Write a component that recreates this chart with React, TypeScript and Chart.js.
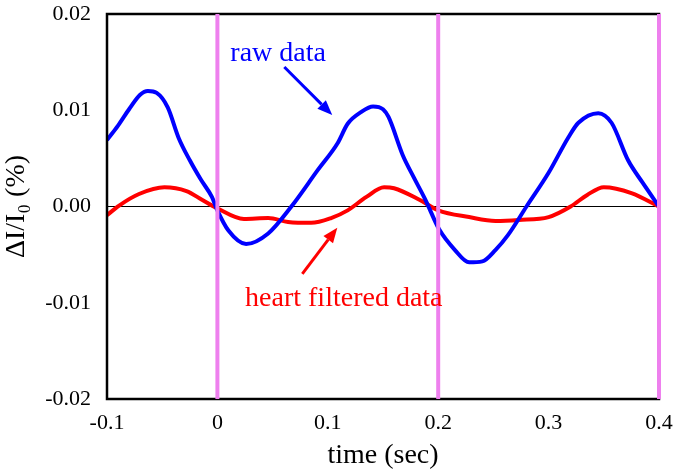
import React, { useEffect, useRef } from "react";
import { Chart, registerables } from "chart.js";

Chart.register(...registerables);

// ---- data ----
const rawTime = [-0.1, -0.09, -0.08, -0.07, -0.063, -0.055, -0.045, -0.035, -0.025, -0.015, -0.005, 0.0, 0.01, 0.026, 0.046, 0.067, 0.091, 0.109, 0.118, 0.13, 0.141, 0.15, 0.155, 0.168, 0.178, 0.188, 0.201, 0.215, 0.228, 0.24, 0.252, 0.263, 0.28, 0.3, 0.318, 0.327, 0.345, 0.357, 0.372, 0.385, 0.4];
const rawValues = [0.0069, 0.0084, 0.0101, 0.0116, 0.012, 0.0118, 0.0103, 0.0071, 0.0048, 0.0028, 0.001, -0.0004, -0.0025, -0.0039, -0.0028, 0.0, 0.0038, 0.0066, 0.0086, 0.0098, 0.0104, 0.0101, 0.0093, 0.0053, 0.003, 0.0008, -0.0024, -0.0045, -0.0058, -0.0057, -0.0045, -0.003, 0.0, 0.0035, 0.0072, 0.0087, 0.0097, 0.0087, 0.0048, 0.0025, 0.0];

const filtTime = [-0.1, -0.089, -0.071, -0.048, -0.028, -0.014, 0.0, 0.024, 0.046, 0.064, 0.085, 0.103, 0.118, 0.135, 0.151, 0.16, 0.183, 0.2, 0.228, 0.252, 0.273, 0.3, 0.32, 0.335, 0.35, 0.375, 0.4];
const filtValues = [-0.0009, 0.0001, 0.0013, 0.002, 0.0016, 0.0007, -0.0002, -0.0013, -0.0012, -0.0016, -0.0017, -0.0012, -0.0004, 0.001, 0.002, 0.0019, 0.0007, -0.0004, -0.0011, -0.0015, -0.0014, -0.0011, 0.0, 0.0012, 0.002, 0.0014, 0.0];

const markerTimes = [0, 0.2, 0.4];

const xTickValues = [-0.1, 0, 0.1, 0.2, 0.3, 0.4];
const xTickLabels = ["-0.1", "0", "0.1", "0.2", "0.3", "0.4"];
const yTickValues = [-0.02, -0.01, 0, 0.01, 0.02];
const yTickLabels = ["-0.02", "-0.01", "0.00", "0.01", "0.02"];

const xTitle = "time (sec)";
const yTitle = "ΔI/I₀ (%)";

const rawLabel = { text: "raw data", x: 0.055, y: 0.0151 };
const rawArrow = { x1: 0.0606, y1: 0.0145, x2: 0.104, y2: 0.0095 };
const filtLabel = { text: "heart filtered data", x: 0.1145, y: -0.0103 };
const filtArrow = { x1: 0.0769, y1: -0.007, x2: 0.1086, y2: -0.0022 };

const BLUE = "#0000FF";
const RED = "#FF0000";
const PINK = "#EE80EE";
const FONT = "'Liberation Serif', 'Times New Roman', serif";

function lookup(vals: number[], labels: string[], v: number) {
  for (let i = 0; i < vals.length; i++) if (Math.abs(vals[i] - v) < 1e-9) return labels[i];
  return "";
}

function drawArrow(ctx: CanvasRenderingContext2D, x1: number, y1: number, x2: number, y2: number, color: string) {
  const ang = Math.atan2(y2 - y1, x2 - x1);
  const len = 15;
  const wid = 6;
  const bx = x2 - len * Math.cos(ang);
  const by = y2 - len * Math.sin(ang);
  ctx.save();
  ctx.strokeStyle = color;
  ctx.fillStyle = color;
  ctx.lineWidth = 3;
  ctx.beginPath();
  ctx.moveTo(x1, y1);
  ctx.lineTo(bx, by);
  ctx.stroke();
  ctx.beginPath();
  ctx.moveTo(x2, y2);
  ctx.lineTo(bx + wid * Math.sin(ang), by - wid * Math.cos(ang));
  ctx.lineTo(bx - wid * Math.sin(ang), by + wid * Math.cos(ang));
  ctx.closePath();
  ctx.fill();
  ctx.restore();
}

const overlayPlugin = {
  id: "overlay",
  afterDatasetsDraw(chart: any) {
    const { ctx, chartArea, scales } = chart;
    const xs = scales.x;
    const ys = scales.y;
    ctx.save();
    // frame
    ctx.strokeStyle = "#000";
    ctx.lineWidth = 2.5;
    ctx.strokeRect(chartArea.left, chartArea.top, chartArea.right - chartArea.left, chartArea.bottom - chartArea.top);
    // pink markers
    ctx.strokeStyle = PINK;
    ctx.lineWidth = 4;
    for (const t of markerTimes) {
      const px = xs.getPixelForValue(t);
      ctx.beginPath();
      ctx.moveTo(px, chartArea.top);
      ctx.lineTo(px, chartArea.bottom);
      ctx.stroke();
    }
    // annotations
    ctx.font = `28px ${FONT}`;
    ctx.textAlign = "center";
    ctx.textBaseline = "alphabetic";
    ctx.fillStyle = BLUE;
    ctx.fillText(rawLabel.text, xs.getPixelForValue(rawLabel.x), ys.getPixelForValue(rawLabel.y));
    ctx.fillStyle = RED;
    ctx.fillText(filtLabel.text, xs.getPixelForValue(filtLabel.x), ys.getPixelForValue(filtLabel.y));
    drawArrow(ctx, xs.getPixelForValue(rawArrow.x1), ys.getPixelForValue(rawArrow.y1), xs.getPixelForValue(rawArrow.x2), ys.getPixelForValue(rawArrow.y2), BLUE);
    drawArrow(ctx, xs.getPixelForValue(filtArrow.x1), ys.getPixelForValue(filtArrow.y1), xs.getPixelForValue(filtArrow.x2), ys.getPixelForValue(filtArrow.y2), RED);
    ctx.restore();
  },
};

export default function App() {
  const ref = useRef<HTMLCanvasElement>(null);
  useEffect(() => {
    if (!ref.current) return;
    const chart = new Chart(ref.current, {
      type: "line",
      data: {
        datasets: [
          {
            label: "raw data",
            data: rawTime.map((t, i) => ({ x: t, y: rawValues[i] })),
            borderColor: BLUE,
            borderWidth: 4,
            pointRadius: 0,
            cubicInterpolationMode: "monotone",
            fill: false,
          },
          {
            label: "heart filtered data",
            data: filtTime.map((t, i) => ({ x: t, y: filtValues[i] })),
            borderColor: RED,
            borderWidth: 4,
            pointRadius: 0,
            cubicInterpolationMode: "monotone",
            fill: false,
          },
        ],
      },
      options: {
        responsive: false,
        animation: false,
        devicePixelRatio: 1,
        layout: { padding: { left: 0, top: 14, right: 16, bottom: 0 } },
        plugins: { legend: { display: false }, tooltip: { enabled: false } },
        scales: {
          x: {
            type: "linear",
            min: -0.1,
            max: 0.4,
            afterFit: (s: any) => {
              s.height = 77;
              s.paddingLeft = 0;
              s.paddingRight = 0;
            },
            ticks: {
              stepSize: 0.1,
              padding: 11,
              color: "#000",
              font: { family: FONT, size: 22 },
              maxRotation: 0,
              callback: (v: any) => lookup(xTickValues, xTickLabels, Number(v)),
            },
            grid: { display: false, drawTicks: false },
            border: { display: false },
            title: { display: true, text: xTitle, color: "#000", font: { family: FONT, size: 28 }, padding: { top: 0, bottom: 4 } },
          },
          y: {
            type: "linear",
            min: -0.02,
            max: 0.02,
            afterFit: (s: any) => {
              s.width = 107;
              s.paddingTop = 0;
              s.paddingBottom = 0;
            },
            ticks: {
              stepSize: 0.01,
              padding: 16,
              color: "#000",
              font: { family: FONT, size: 22 },
              callback: (v: any) => lookup(yTickValues, yTickLabels, Number(v)),
            },
            grid: {
              drawTicks: false,
              color: (c: any) => (c.tick && Math.abs(c.tick.value) < 1e-9 ? "#000" : "rgba(0,0,0,0)"),
              lineWidth: 1,
            },
            border: { display: false },
            title: { display: true, text: yTitle, color: "#000", font: { family: FONT, size: 28 }, padding: { top: 0, bottom: 0 } },
          },
        },
      },
      plugins: [overlayPlugin],
    } as any);
    return () => chart.destroy();
  }, []);
  return (
    <div style={{ position: "absolute", left: 0, top: 0, width: 675, height: 476, background: "#fff" }}>
      <canvas ref={ref} width={675} height={476} style={{ display: "block" }} />
    </div>
  );
}
